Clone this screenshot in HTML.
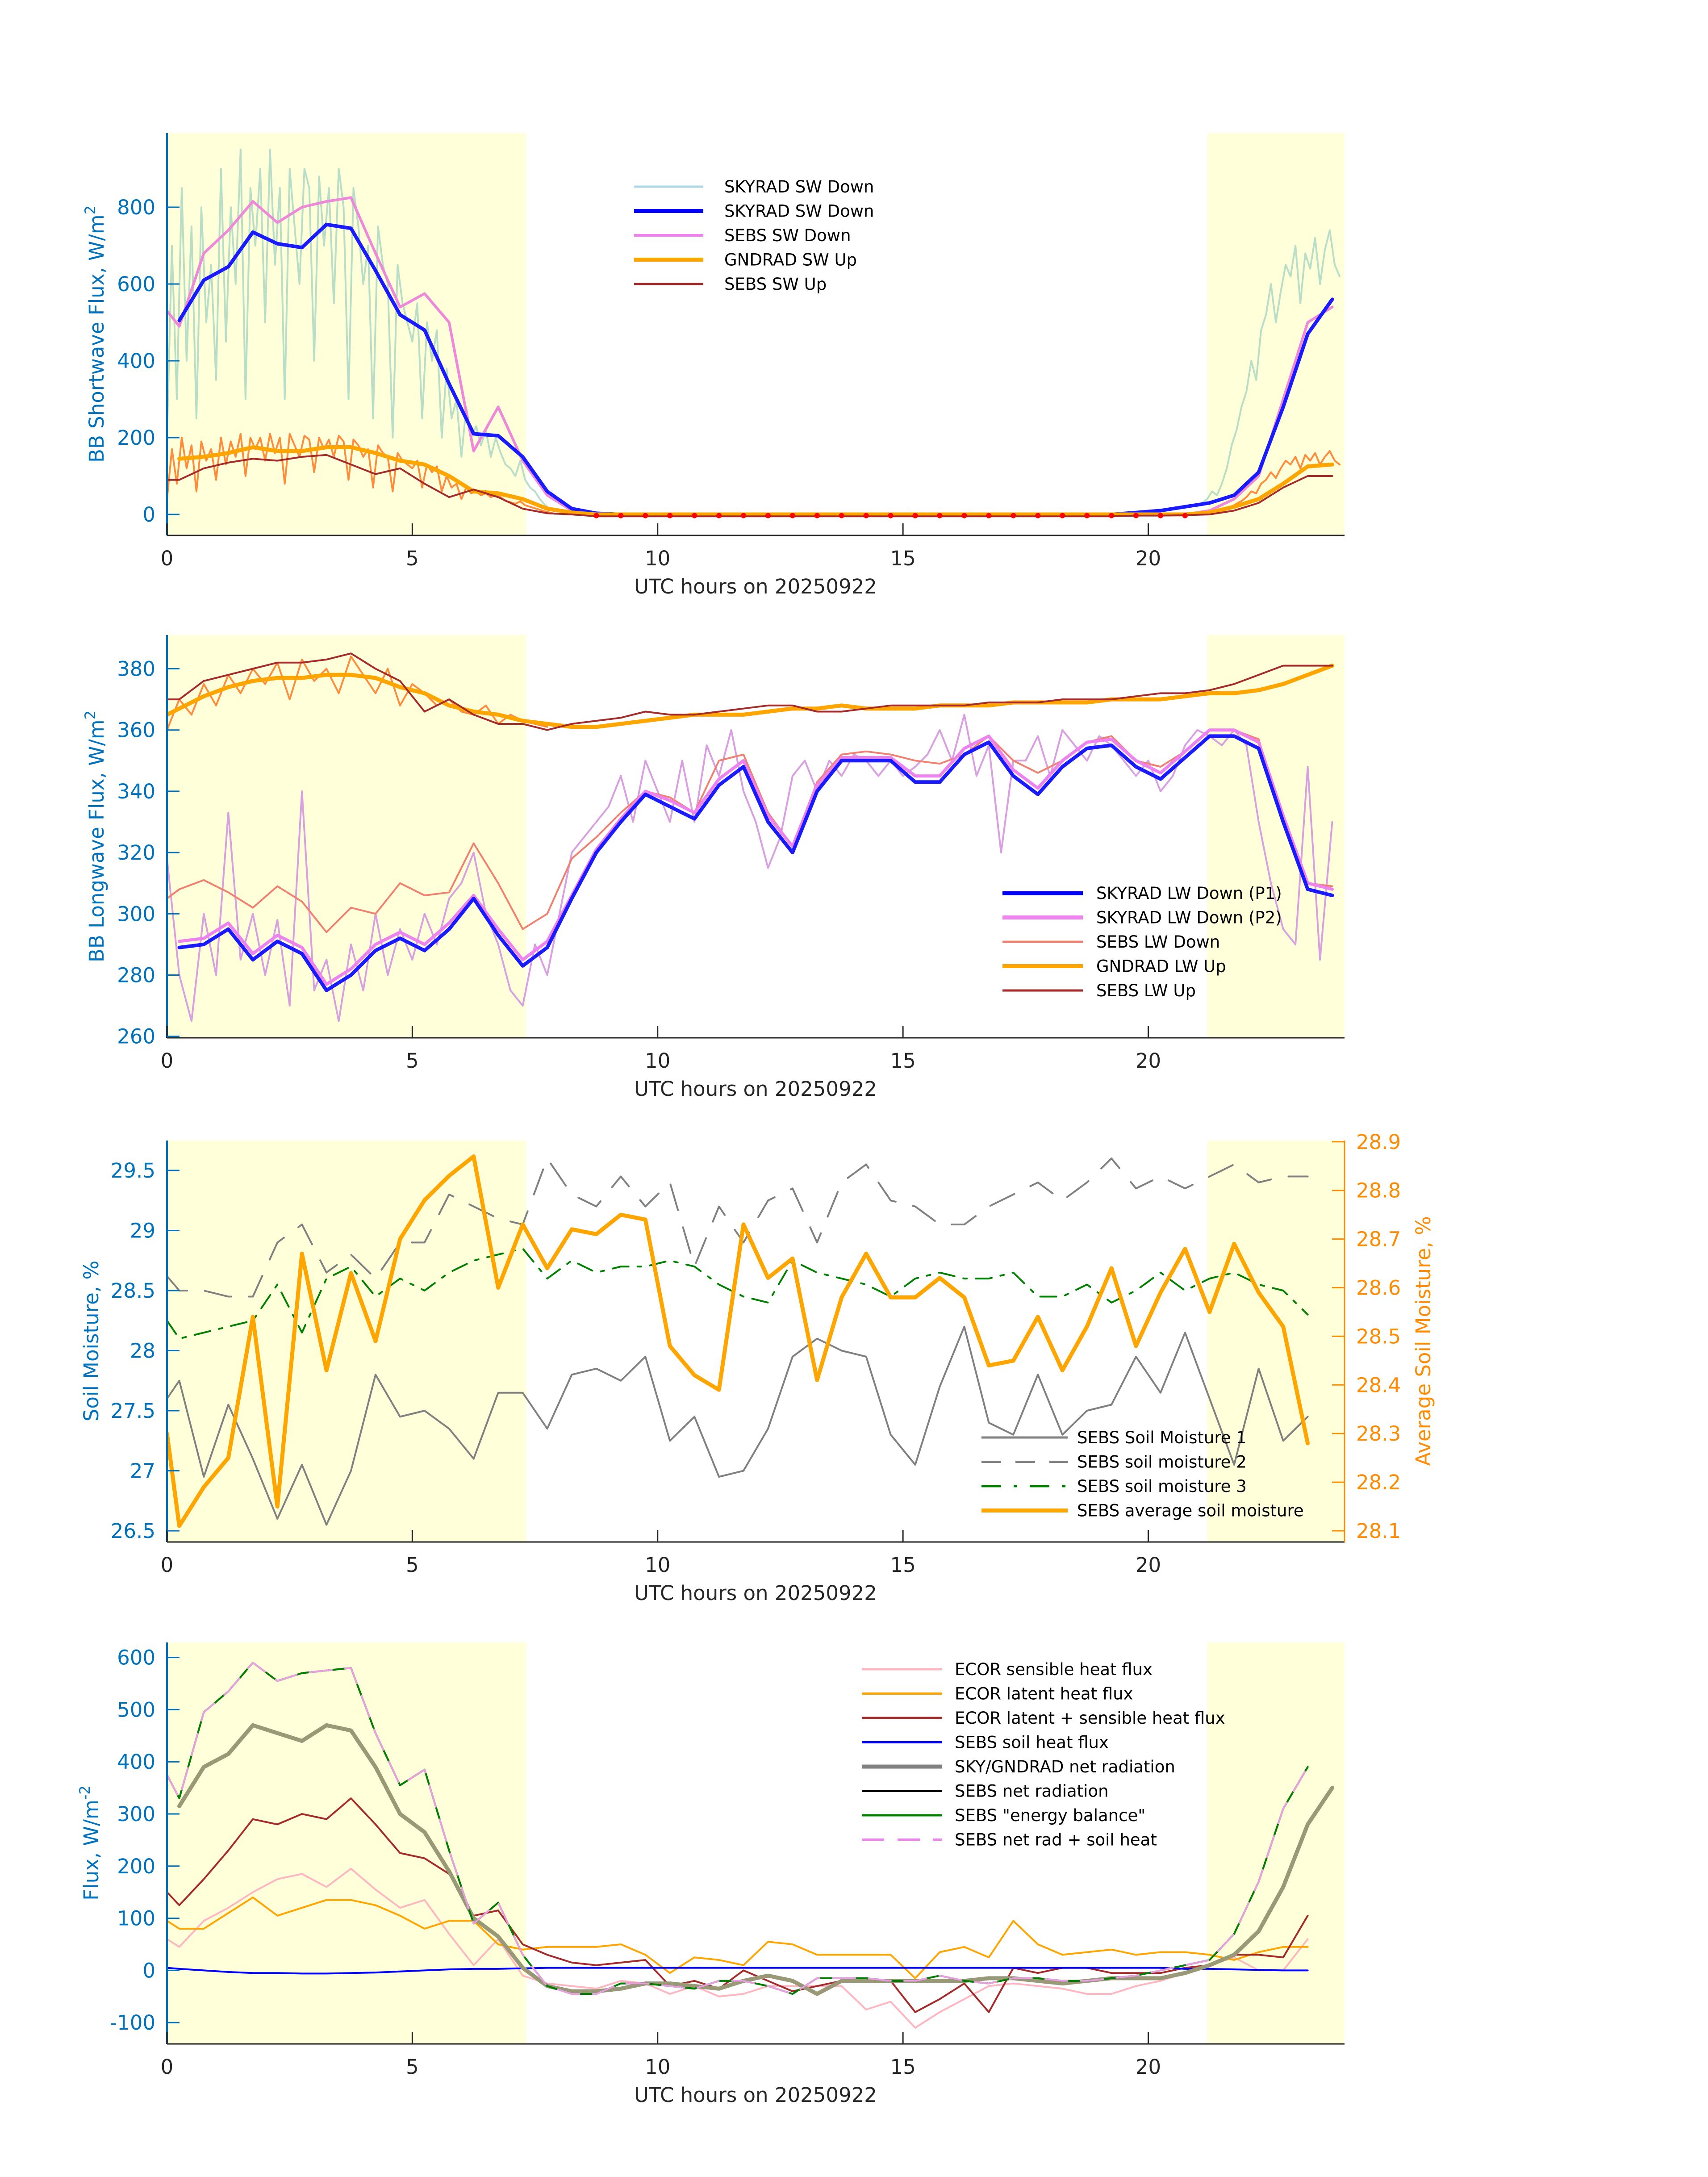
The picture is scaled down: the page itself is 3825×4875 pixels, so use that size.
<!DOCTYPE html>
<html><head><meta charset="utf-8"><style>
html,body{margin:0;padding:0;background:#fff;}
svg{display:block;font-family:"DejaVu Sans","Liberation Sans",sans-serif;}
</style></head><body>
<svg id="fig" width="3825" height="4875" viewBox="0 0 3825 4875" xmlns="http://www.w3.org/2000/svg">
<rect width="3825" height="4875" fill="#fff"/>
</svg>
<script>
// ---------- DATA ----------
const halfHours = [0.25,0.75,1.25,1.75,2.25,2.75,3.25,3.75,4.25,4.75,5.25,5.75,6.25,6.75,7.25,7.75,8.25,8.75,9.25,9.75,10.25,10.75,11.25,11.75,12.25,12.75,13.25,13.75,14.25,14.75,15.25,15.75,16.25,16.75,17.25,17.75,18.25,18.75,19.25,19.75,20.25,20.75,21.25,21.75,22.25,22.75,23.25,23.75];
// Panel 1 shortwave
const swDownSky = [505,610,645,735,705,695,755,745,635,520,480,340,210,205,150,60,15,3,0,0,0,0,0,0,0,0,0,0,0,0,0,0,0,0,0,0,0,0,0,5,10,20,30,50,110,280,470,560];
const swDownSebs = [490,680,740,815,760,800,815,825,680,540,575,500,165,280,140,50,10,0,0,0,0,0,0,0,0,0,0,0,0,0,0,0,0,0,0,0,0,0,0,0,0,0,10,40,100,300,500,540];
const swUpGnd = [145,150,160,175,165,165,175,175,160,140,130,100,60,55,40,15,5,0,0,0,0,0,0,0,0,0,0,0,0,0,0,0,0,0,0,0,0,0,0,0,0,0,5,20,40,80,125,130];
const swUpSebs = [90,120,135,145,140,150,155,130,105,120,80,45,65,45,15,3,0,-5,-5,-5,-5,-5,-5,-5,-5,-5,-5,-5,-5,-5,-5,-5,-5,-5,-5,-5,-5,-5,-5,-3,-3,-2,0,10,30,70,100,100];
const swNoisyStart = 0, swNoisyStep = 0.1;
const swDownNoisyAM = [200,700,300,850,400,750,250,800,500,650, 350,900,450,800,600,950,300,850,700,900, 500,950,650,850,300,900,750,600,900,850, 400,880,700,850,550,900,800,300,850,750, 600,700,250,750,650,600,200,650,550,500, 450,550,250,500,400,480,200,380,250,300, 150,280,200,230,180,220,150,200,160,130, 120,100,140,90,70,60,40,25,15,8];
const swUpNoisyAM = [40,170,80,200,120,180,60,190,140,170, 90,200,130,190,150,210,100,200,170,200, 140,210,160,200,80,210,180,150,205,195, 110,200,170,195,150,205,190,90,195,180, 150,170,70,180,160,150,60,160,140,130, 120,140,70,130,110,125,60,100,70,80, 40,70,55,60,50,55,45,50,45,35, 32,28,34,24,20,16,12,8,5,2];
const pmNoisyStart = 21.0;
const swDownNoisyPM = [20,30,40,60,50,80,120,180,220,280,320,400,350,480,520,600,500,580,650,620,700,550,680,640,720,600,690,740,650,620];
const swUpNoisyPM = [0,2,5,8,10,15,12,20,28,35,45,60,55,80,90,110,95,120,140,130,150,120,155,140,160,130,150,165,140,130];
const swDots = [8.75,9.25,9.75,10.25,10.75,11.25,11.75,12.25,12.75,13.25,13.75,14.25,14.75,15.25,15.75,16.25,16.75,17.25,17.75,18.25,18.75,19.25,19.75,20.25,20.75];
// Panel 2 longwave
const lwDownP1 = [289,290,295,285,291,287,275,280,288,292,288,295,305,293,283,289,305,320,330,339,335,331,342,348,330,320,340,350,350,350,343,343,352,356,345,339,348,354,355,348,344,351,358,358,354,330,308,306];
const lwDownP2 = [291,292,297,287,293,289,277,282,290,294,290,297,306,295,285,291,306,321,331,340,337,333,344,350,332,322,342,351,351,351,345,345,354,358,347,341,350,356,357,350,346,353,360,360,356,332,310,308];
const lwDownSebs = [308,311,307,302,309,304,294,302,300,310,306,307,323,310,295,300,318,325,333,340,338,333,350,352,333,322,343,352,353,352,350,349,352,358,350,346,350,356,358,350,348,353,360,360,357,330,310,309];
const lwUpGnd = [367,371,374,376,377,377,378,378,377,374,372,368,366,365,363,362,361,361,362,363,364,365,365,365,366,367,367,368,367,367,367,368,368,368,369,369,369,369,370,370,370,371,372,372,373,375,378,381];
const lwUpSebs = [370,376,378,380,382,382,383,385,380,376,366,370,365,362,362,360,362,363,364,366,365,365,366,367,368,368,366,366,367,368,368,368,368,369,369,369,370,370,370,371,372,372,373,375,378,381,381,381];
const lwNoisyStep = 0.25;
const lwDownNoisy = [318,280,265,300,280,333,285,300, 280,298,270,340,275,285,265,290, 275,300,280,295,285,300,290,305, 310,320,300,290,275,270,290,280, 300,320,325,330,335,345,330,350, 340,330,350,330,355,345,360,340, 330,315,325,345,350,340,350,345, 352,350,345,350,345,348,352,360, 350,365,345,355,320,350,350,358, 345,360,355,350,358,355,350,345, 350,340,345,355,360,358,355,360, 355,330,310,295,290,348,285,330];
const lwUpNoisyAM = [360,370,365,375,368,378,372,380, 375,382,370,383,376,380,372,384, 378,372,380,368,375,372,368,370, 366,365,368,362,365,363,362,361];
// Panel 3 soil moisture
const smTimes = [0,0.25,0.75,1.25,1.75,2.25,2.75,3.25,3.75,4.25,4.75,5.25,5.75,6.25,6.75,7.25,7.75,8.25,8.75,9.25,9.75,10.25,10.75,11.25,11.75,12.25,12.75,13.25,13.75,14.25,14.75,15.25,15.75,16.25,16.75,17.25,17.75,18.25,18.75,19.25,19.75,20.25,20.75,21.25,21.75,22.25,22.75,23.25];
const sm1 = [27.6,27.75,26.95,27.55,27.1,26.6,27.05,26.55,27,27.8,27.45,27.5,27.35,27.1,27.65,27.65,27.35,27.8,27.85,27.75,27.95,27.25,27.45,26.95,27,27.35,27.95,28.1,28,27.95,27.3,27.05,27.7,28.2,27.4,27.3,27.8,27.3,27.5,27.55,27.95,27.65,28.15,27.6,27.05,27.85,27.25,27.45];
const sm2 = [28.62,28.5,28.5,28.45,28.45,28.9,29.05,28.65,28.8,28.6,28.9,28.9,29.3,29.2,29.1,29.05,29.6,29.3,29.2,29.45,29.2,29.4,28.7,29.2,28.9,29.25,29.35,28.9,29.4,29.55,29.25,29.2,29.05,29.05,29.2,29.3,29.4,29.25,29.4,29.6,29.35,29.45,29.35,29.45,29.55,29.4,29.45,29.45];
const sm3 = [28.25,28.1,28.15,28.2,28.25,28.55,28.15,28.6,28.7,28.45,28.6,28.5,28.65,28.75,28.8,28.85,28.6,28.75,28.65,28.7,28.7,28.75,28.7,28.55,28.45,28.4,28.75,28.65,28.6,28.55,28.45,28.6,28.65,28.6,28.6,28.65,28.45,28.45,28.55,28.4,28.5,28.65,28.5,28.6,28.65,28.55,28.5,28.3];
const smAvg = [28.3,28.11,28.19,28.25,28.54,28.15,28.67,28.43,28.63,28.49,28.7,28.78,28.83,28.87,28.6,28.73,28.64,28.72,28.71,28.75,28.74,28.48,28.42,28.39,28.73,28.62,28.66,28.41,28.58,28.67,28.58,28.58,28.62,28.58,28.44,28.45,28.54,28.43,28.52,28.64,28.48,28.59,28.68,28.55,28.69,28.59,28.52,28.28];
// Panel 4 fluxes
const fxTimes = [0,0.25,0.75,1.25,1.75,2.25,2.75,3.25,3.75,4.25,4.75,5.25,5.75,6.25,6.75,7.25,7.75,8.25,8.75,9.25,9.75,10.25,10.75,11.25,11.75,12.25,12.75,13.25,13.75,14.25,14.75,15.25,15.75,16.25,16.75,17.25,17.75,18.25,18.75,19.25,19.75,20.25,20.75,21.25,21.75,22.25,22.75,23.25];
const netSkyTimes = [0.25,0.75,1.25,1.75,2.25,2.75,3.25,3.75,4.25,4.75,5.25,5.75,6.25,6.75,7.25,7.75,8.25,8.75,9.25,9.75,10.25,10.75,11.25,11.75,12.25,12.75,13.25,13.75,14.25,14.75,15.25,15.75,16.25,16.75,17.25,17.75,18.25,18.75,19.25,19.75,20.25,20.75,21.25,21.75,22.25,22.75,23.25,23.75];
const netSky = [315,390,415,470,455,440,470,460,390,300,265,190,100,65,5,-30,-40,-40,-35,-25,-25,-30,-35,-20,-10,-20,-45,-20,-20,-20,-20,-20,-20,-15,-15,-20,-25,-20,-15,-15,-15,-5,10,30,75,160,280,350];
const netSebs = [375,330,495,535,590,555,570,575,580,455,355,385,230,90,130,30,-30,-45,-45,-25,-25,-30,-35,-20,-20,-30,-45,-15,-15,-15,-20,-20,-10,-20,-25,-15,-15,-20,-20,-15,-10,0,10,20,70,170,310,390];
const energyBal = [375,330,495,535,590,555,570,575,580,455,355,385,230,90,130,30,-30,-45,-45,-25,-25,-30,-35,-20,-20,-30,-45,-15,-15,-15,-20,-20,-10,-20,-25,-15,-15,-20,-20,-15,-10,0,10,20,70,170,310,390];
const netPlusSoil = [375,330,495,535,590,555,570,575,580,455,355,385,230,90,130,30,-30,-45,-45,-25,-25,-30,-35,-20,-20,-30,-45,-15,-15,-15,-20,-20,-10,-20,-25,-15,-15,-20,-20,-15,-10,0,10,20,70,170,310,390];
const latSens = [150,125,175,230,290,280,300,290,330,280,225,215,185,105,115,50,30,15,10,15,20,-30,-20,-35,0,-20,-40,-30,-20,-20,-20,-80,-55,-25,-80,5,-5,5,5,-5,-5,-5,5,10,30,30,25,105];
const latent = [95,80,80,110,140,105,120,135,135,125,105,80,95,95,50,40,45,45,45,50,30,-5,25,20,10,55,50,30,30,30,30,-15,35,45,25,95,50,30,35,40,30,35,35,30,20,35,45,45];
const sensible = [60,45,95,120,150,175,185,160,195,155,120,135,70,10,60,-10,-25,-30,-35,-20,-25,-45,-30,-50,-45,-30,-30,-30,-30,-75,-60,-110,-80,-55,-30,-25,-30,-35,-45,-45,-30,-20,-5,10,25,0,0,60];
const soilHeat = [5,3,0,-3,-5,-5,-6,-6,-5,-4,-2,0,2,3,3,4,5,5,5,5,5,5,5,5,5,5,5,5,5,5,5,5,5,5,5,5,5,5,5,5,5,5,3,3,2,1,0,0];
const xTicks = [0,5,10,15,20];
const p1Ticks = [0,200,400,600,800];
const p2Ticks = [260,280,300,320,340,360,380];
const p3Ticks = [26.5,27,27.5,28,28.5,29,29.5];
const p3Labels = ["26.5","27","27.5","28","28.5","29","29.5"];
const p3RTicks = [28.1,28.2,28.3,28.4,28.5,28.6,28.7,28.8,28.9];
const p4Ticks = [-100,0,100,200,300,400,500,600];

// ---------- SCALES ----------
const NS = "http://www.w3.org/2000/svg";
const svg = document.getElementById('fig');
const X0 = 374, XR = 3011;
const xs = t => X0 + t * (XR - X0) / 24;
const panels = [
  {top:298, bottom:1199, y: v => 1152 - 0.86 * v},
  {top:1422, bottom:2324, y: v => 1497.5 - (v - 380) * 6.86},
  {top:2554, bottom:3453, y: v => 2621 - (v - 29.5) * 269},
  {top:3678, bottom:4577, y: v => 3711.6 - (v - 600) * 1.168}
];
const y3r = v => 3428 - (v - 28.1) * 1089;

function mk(tag, attrs, parent) {
  const e = document.createElementNS(NS, tag);
  for (const k in attrs) e.setAttribute(k, attrs[k]);
  (parent || svg).appendChild(e);
  return e;
}
function seq(start, step, n) { const a = []; for (let i = 0; i < n; i++) a.push(start + step * i); return a; }
function series(g, ts, vals, ysc, color, w, dash, name) {
  let d = '';
  for (let i = 0; i < vals.length; i++) d += (i ? 'L' : 'M') + xs(ts[i]).toFixed(1) + ',' + ysc(vals[i]).toFixed(1);
  const p = mk('path', {d: d, fill: 'none', stroke: color, 'stroke-width': w, 'stroke-linejoin': 'round', 'stroke-linecap': 'round'}, g);
  if (dash) p.setAttribute('stroke-dasharray', dash);
  
  
  return p;
}
function txt(x, y, s, size, color, anchor, parent, rot) {
  const t = mk('text', {x: x, y: y, 'font-size': size, fill: color, 'text-anchor': anchor || 'start'}, parent);
  if (rot) t.setAttribute('transform', 'rotate(' + rot + ' ' + x + ' ' + y + ')');
  t.textContent = s;
  return t;
}

function frame(pi, yTicks, yLabels, ylabel, clipId) {
  const P = panels[pi];
  const g = mk('g', {});
  
  
  const cp = mk('clipPath', {id: clipId}, g);
  mk('rect', {x: X0, y: P.top, width: XR - X0, height: P.bottom - P.top}, cp);
  const s1 = mk('rect', {x: X0, y: P.top, width: xs(7.32) - X0, height: P.bottom - P.top, fill: '#ffffd9'}, g);
  
  
  const s2 = mk('rect', {x: xs(21.2), y: P.top, width: XR - xs(21.2), height: P.bottom - P.top, fill: '#ffffd9'}, g);
  
  
  const plot = mk('g', {'clip-path': 'url(#' + clipId + ')'}, g);
  
  
  const xa = mk('line', {x1: X0, y1: P.bottom, x2: XR, y2: P.bottom, stroke: '#262626', 'stroke-width': 3}, g);
  
  
  const ya = mk('line', {x1: X0, y1: P.top, x2: X0, y2: P.bottom, stroke: '#0072bd', 'stroke-width': 4}, g);
  
  
  xTicks.forEach(t => {
    mk('line', {x1: xs(t), y1: P.bottom, x2: xs(t), y2: P.bottom - 27, stroke: '#262626', 'stroke-width': 3}, g);
    const l = txt(xs(t), P.bottom + 67, String(t), 45, '#262626', 'middle', g);
    
    
  });
  yTicks.forEach((v, i) => {
    mk('line', {x1: X0, y1: P.y(v), x2: X0 + 28, y2: P.y(v), stroke: '#0072bd', 'stroke-width': 3}, g);
    const l = txt(348, P.y(v) + 16, yLabels[i], 45, '#0072bd', 'end', g);
    
    
  });
  const xl = txt(1692, P.bottom + 130, 'UTC hours on 20250922', 45, '#262626', 'middle', g);
  
  
  return {g: g, plot: plot, P: P};
}
function ytitle(g, x, y, parts) {
  const t = mk('text', {x: x, y: y, 'font-size': 45, fill: '#0072bd', 'text-anchor': 'middle', transform: 'rotate(-90 ' + x + ' ' + y + ')'}, g);
  
  
  t.appendChild(document.createTextNode(parts[0]));
  if (parts[1]) {
    const s = mk('tspan', {'baseline-shift': 'super', 'font-size': 32}, t);
    s.textContent = parts[1];
  }
  return t;
}
function legend(g, x1, x2, tx, y0, items) {
  const lg = mk('g', {}, g);
  
  
  items.forEach((it, i) => {
    const y = y0 + i * 54.5;
    const ln = mk('line', {x1: x1, y1: y, x2: x2, y2: y, stroke: it[1], 'stroke-width': it[2]}, lg);
    if (it[3]) ln.setAttribute('stroke-dasharray', it[3]);
    
    
    const t = txt(tx, y + 13, it[0], 37, '#000', 'start', lg);
    
    
  });
}

// ---------- PANEL 1 ----------
{
  const f = frame(0, p1Ticks, p1Ticks.map(String), '', 'c1');
  const y = f.P.y, pl = f.plot;
  series(pl, seq(swNoisyStart, swNoisyStep, swDownNoisyAM.length), swDownNoisyAM, y, '#b8dec8', 4, null, 'skyrad-sw-down-noisy-am');
  series(pl, [7.9, 21.0], [0, 0], y, '#b8dec8', 4, null, 'skyrad-sw-down-noisy-night');
  series(pl, seq(pmNoisyStart, 0.1, swDownNoisyPM.length), swDownNoisyPM, y, '#b8dec8', 4, null, 'skyrad-sw-down-noisy-pm');
  series(pl, seq(swNoisyStart, swNoisyStep, swUpNoisyAM.length), swUpNoisyAM, y, '#ff8c3c', 4, null, 'gndrad-sw-up-noisy-am');
  series(pl, seq(pmNoisyStart, 0.1, swUpNoisyPM.length), swUpNoisyPM, y, '#ff8c3c', 4, null, 'gndrad-sw-up-noisy-pm');
  series(pl, [0].concat(halfHours), [530].concat(swDownSebs), y, '#ee88d8', 6, null, 'sebs-sw-down');
  series(pl, halfHours, swDownSky, y, '#1a1aff', 8, null, 'skyrad-sw-down');
  series(pl, halfHours, swUpGnd, y, '#ffa500', 9, null, 'gndrad-sw-up');
  series(pl, [0].concat(halfHours), [90].concat(swUpSebs), y, '#a52a2a', 4, null, 'sebs-sw-up');
  swDots.forEach(t => {
    const c = mk('circle', {cx: xs(t), cy: y(-3), r: 6, fill: '#ff0000'}, pl);
    
    
  });
  ytitle(f.g, 232, 748, ['BB Shortwave Flux, W/m', '2']);
  legend(f.g, 1420, 1575, 1622, 418, [['SKYRAD SW Down', '#add8e6', 5], ['SKYRAD SW Down', '#0000ff', 9], ['SEBS SW Down', '#ee82ee', 6], ['GNDRAD SW Up', '#ffa500', 9], ['SEBS SW Up', '#a52a2a', 5]]);
}
// ---------- PANEL 2 ----------
{
  const f = frame(1, p2Ticks, p2Ticks.map(String), '', 'c2');
  const y = f.P.y, pl = f.plot;
  series(pl, seq(0, lwNoisyStep, lwUpNoisyAM.length), lwUpNoisyAM, y, '#ff8c3c', 4, null, 'gndrad-lw-up-noisy');
  series(pl, seq(0, lwNoisyStep, lwDownNoisy.length), lwDownNoisy, y, '#d8a0e0', 4, null, 'skyrad-lw-down-noisy');
  series(pl, [0].concat(halfHours), [305].concat(lwDownSebs), y, '#f08070', 4, null, 'sebs-lw-down');
  series(pl, halfHours, lwDownP2, y, '#ee82ee', 7, null, 'skyrad-lw-down-p2');
  series(pl, halfHours, lwDownP1, y, '#1a1aff', 8, null, 'skyrad-lw-down-p1');
  series(pl, [0].concat(halfHours), [365].concat(lwUpGnd), y, '#ffa500', 9, null, 'gndrad-lw-up');
  series(pl, [0].concat(halfHours), [370].concat(lwUpSebs), y, '#a52a2a', 4, null, 'sebs-lw-up');
  ytitle(f.g, 232, 1873, ['BB Longwave Flux, W/m', '2']);
  legend(f.g, 2245, 2425, 2455, 2000, [['SKYRAD LW Down (P1)', '#0000ff', 9], ['SKYRAD LW Down (P2)', '#ee82ee', 9], ['SEBS LW Down', '#f08070', 5], ['GNDRAD LW Up', '#ffa500', 9], ['SEBS LW Up', '#a52a2a', 5]]);
}
// ---------- PANEL 3 ----------
{
  const f = frame(2, p3Ticks, p3Labels, '', 'c3');
  const y = f.P.y, pl = f.plot;
  series(pl, smTimes, sm1, y, '#808080', 4, null, 'sebs-soil-moisture-1');
  series(pl, smTimes, sm2, y, '#808080', 4, '60,40', 'sebs-soil-moisture-2');
  series(pl, smTimes, sm3, y, '#008000', 4, '36,20,8,20', 'sebs-soil-moisture-3');
  series(pl, smTimes, smAvg, y3r, '#ffa500', 9, null, 'sebs-average-soil-moisture');
  const ra = mk('line', {x1: XR, y1: f.P.top, x2: XR, y2: f.P.bottom, stroke: '#ff8c00', 'stroke-width': 3}, f.g);
  
  
  p3RTicks.forEach(v => {
    mk('line', {x1: XR, y1: y3r(v), x2: XR - 28, y2: y3r(v), stroke: '#ff8c00', 'stroke-width': 3}, f.g);
    const l = txt(3037, y3r(v) + 16, v.toFixed(1), 45, '#ff8c00', 'start', f.g);
    
    
  });
  ytitle(f.g, 220, 3003, ['Soil Moisture, %']);
  const rt = mk('text', {x: 3203, y: 3003, 'font-size': 45, fill: '#ff8c00', 'text-anchor': 'middle', transform: 'rotate(-90 3203 3003)'}, f.g);
  rt.textContent = 'Average Soil Moisture, %';
  
  
  legend(f.g, 2198, 2391, 2412, 3219, [['SEBS Soil Moisture 1', '#808080', 5], ['SEBS soil moisture 2', '#808080', 5, '44,32'], ['SEBS soil moisture 3', '#008000', 5, '44,28,8,28'], ['SEBS average soil moisture', '#ffa500', 9]]);
}
// ---------- PANEL 4 ----------
{
  const f = frame(3, p4Ticks, p4Ticks.map(String), '', 'c4');
  const y = f.P.y, pl = f.plot;
  series(pl, fxTimes, sensible, y, '#ffb6c1', 4, null, 'ecor-sensible-heat-flux');
  series(pl, fxTimes, latent, y, '#ffa500', 4, null, 'ecor-latent-heat-flux');
  series(pl, fxTimes, latSens, y, '#a52a2a', 4, null, 'ecor-latent-plus-sensible');
  series(pl, fxTimes, soilHeat, y, '#0000ff', 4, null, 'sebs-soil-heat-flux');
  series(pl, netSkyTimes, netSky, y, '#999977', 9, null, 'sky-gndrad-net-radiation');
  series(pl, fxTimes, netSebs, y, '#000000', 4, null, 'sebs-net-radiation');
  series(pl, fxTimes, energyBal, y, '#008000', 4, null, 'sebs-energy-balance');
  series(pl, fxTimes, netPlusSoil, y, '#e8a0e0', 4, '50,30', 'sebs-net-rad-plus-soil-heat');
  ytitle(f.g, 220, 4127, ['Flux, W/m', '-2']);
  legend(f.g, 1930, 2110, 2138, 3738, [['ECOR sensible heat flux', '#ffb6c1', 5], ['ECOR latent heat flux', '#ffa500', 5], ['ECOR latent + sensible heat flux', '#a52a2a', 5], ['SEBS soil heat flux', '#0000ff', 5], ['SKY/GNDRAD net radiation', '#808080', 9], ['SEBS net radiation', '#000000', 5], ['SEBS "energy balance"', '#008000', 5], ['SEBS net rad + soil heat', '#ee82ee', 5, '50,30']]);
}
</script>
</body></html>
